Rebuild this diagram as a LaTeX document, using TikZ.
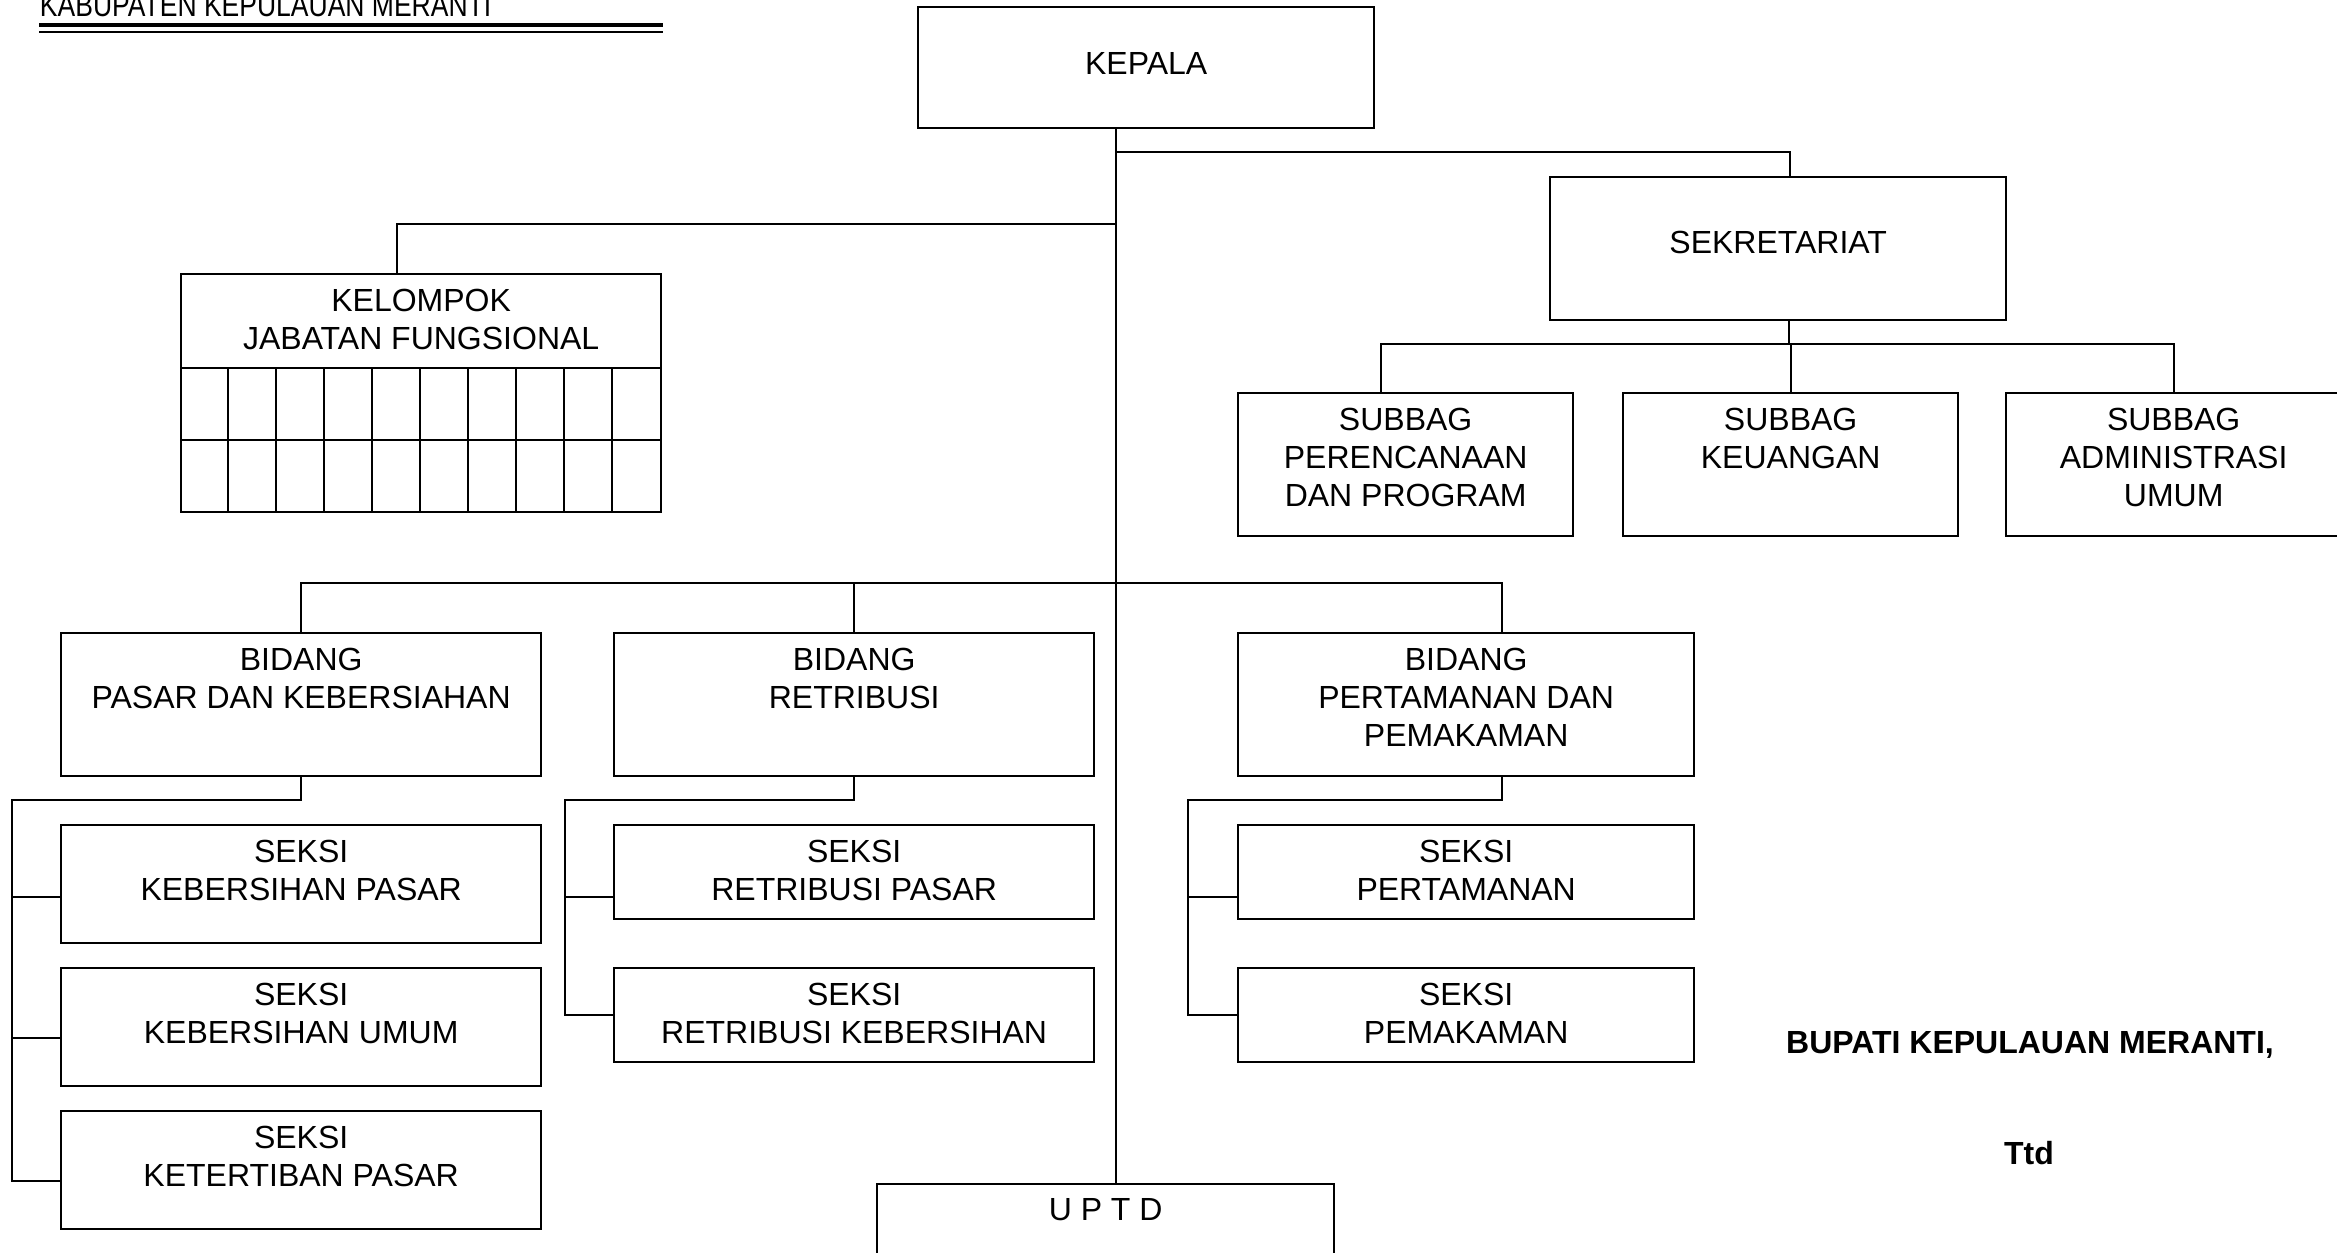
\documentclass[tikz,border=0pt]{standalone}
\usepackage{fontspec}
\setmainfont{Liberation Sans}
\newfontfamily\narrowfont[FakeStretch=0.82]{Liberation Sans}

\tikzset{
  box/.style 2 args={draw, line width=0.7pt, inner sep=0pt, anchor=north west,
    minimum width=#1*0.3pt, minimum height=#2*0.3pt},
  lbl/.style={anchor=north, inner sep=0pt, align=center, yshift=#1},
  lbl/.default=-4.65pt,
  sign/.style={anchor=base, inner sep=0pt, font=\fontsize{9.6}{11.4}\selectfont\bfseries},
}

\begin{document}
\begin{tikzpicture}[x=0.3pt, y=-0.3pt, line width=0.6pt, font=\fontsize{9.6}{11.4}\selectfont]
  \useasboundingbox (0,0) rectangle (2337,1253);

  \node[anchor=base west, inner sep=0pt, font=\narrowfont\fontsize{9.7}{11}\selectfont] (kab) at (39,16) {KABUPATEN KEPULAUAN MERANTI};
  \draw[line width=1pt] (kab.base west |- 0,25) -- (663,25);
  \draw (kab.base west |- 0,31.5) -- (663,31.5);

  \node[box={456}{121}, label={[lbl=-13.6pt]north:KEPALA}] (kepala) at (917,6) {};
  \node[box={456}{143}, label={[lbl=-16.1pt]north:SEKRETARIAT}] (sekr) at (1549,176) {};
  \node[box={335}{143}, label={[lbl]north:{SUBBAG\\PERENCANAAN\\DAN PROGRAM}}] (sub1) at (1237,392) {};
  \node[box={335}{143}, label={[lbl]north:{SUBBAG\\KEUANGAN}}] (sub2) at (1622,392) {};
  \node[box={335}{143}, label={[lbl]north:{SUBBAG\\ADMINISTRASI\\UMUM}}] (sub3) at (2005,392) {};

  \node[box={480}{238}, label={[lbl]north:{KELOMPOK\\JABATAN FUNGSIONAL}}] (kjf) at (180,273) {};
  \draw (kjf.west |- 0,368) -- (kjf.east |- 0,368);
  \draw (kjf.west |- 0,440) -- (kjf.east |- 0,440);
  \foreach \i in {1,...,9}
    \draw ({180+48*\i},368) -- ({180+48*\i},511);

  \node[box={480}{143}, label={[lbl]north:{BIDANG\\PASAR DAN KEBERSIAHAN}}] (bpk) at (60,632) {};
  \node[box={480}{143}, label={[lbl]north:{BIDANG\\RETRIBUSI}}] (bre) at (613,632) {};
  \node[box={456}{143}, label={[lbl]north:{BIDANG\\PERTAMANAN DAN\\PEMAKAMAN}}] (bpm) at (1237,632) {};

  \node[box={480}{118}, label={[lbl]north:{SEKSI\\KEBERSIHAN PASAR}}] (kbp) at (60,824) {};
  \node[box={480}{118}, label={[lbl]north:{SEKSI\\KEBERSIHAN UMUM}}] (kbu) at (60,967) {};
  \node[box={480}{118}, label={[lbl]north:{SEKSI\\KETERTIBAN PASAR}}] (ktp) at (60,1110) {};
  \node[box={480}{94}, label={[lbl]north:{SEKSI\\RETRIBUSI PASAR}}] (srp) at (613,824) {};
  \node[box={480}{94}, label={[lbl]north:{SEKSI\\RETRIBUSI KEBERSIHAN}}] (srk) at (613,967) {};
  \node[box={456}{94}, label={[lbl]north:{SEKSI\\PERTAMANAN}}] (spt) at (1237,824) {};
  \node[box={456}{94}, label={[lbl]north:{SEKSI\\PEMAKAMAN}}] (smk) at (1237,967) {};

  \node[box={457}{150}, label={[lbl=-4.2pt]north:U P T D}] (uptd) at (876,1183) {};

  \node[sign] (bupati) at (2030,1053) {BUPATI KEPULAUAN MERANTI,};
  \node[sign] (ttd) at (2029,1164) {Ttd};

  \coordinate (jsek) at (1116,152);
  \coordinate (jkel) at (1116,224);
  \coordinate (jbid) at (1116,583);
  \coordinate (jsub) at (1789,344);
  \draw (kepala.south -| jsek) -- (uptd.north -| jsek);
  \draw (jsek) -| ([xshift=3.6pt]sekr.north);
  \draw (jkel) -| ([xshift=-7.2pt]kjf.north);
  \draw (sekr.south -| jsub) -- (jsub);
  \draw ([xshift=-7.35pt]sub1.north) |- (jsub) -| (sub3.north);
  \draw (sub2.north) -- (sub2.north |- jsub);
  \draw (bpk.north) |- (jbid) -| ([xshift=10.8pt]bpm.north);
  \draw (bre.north) -- (bre.north |- jbid);

  \coordinate (spa) at (12,800);
  \coordinate (sre) at (565,800);
  \coordinate (spm) at (1188,800);
  \draw (bpk.south) |- (spa) |- ([yshift=-3.3pt]ktp.west);
  \draw ([yshift=-3.9pt]kbp.west) -- ++(-48,0);
  \draw ([yshift=-3.3pt]kbu.west) -- ++(-48,0);
  \draw (bre.south) |- (sre) |- (srk.west);
  \draw ([yshift=-7.5pt]srp.west) -- ++(-48,0);
  \draw ([xshift=10.8pt]bpm.south) |- (spm) |- (smk.west);
  \draw ([yshift=-7.5pt]spt.west) -- ++(-49,0);
\end{tikzpicture}
\end{document}
